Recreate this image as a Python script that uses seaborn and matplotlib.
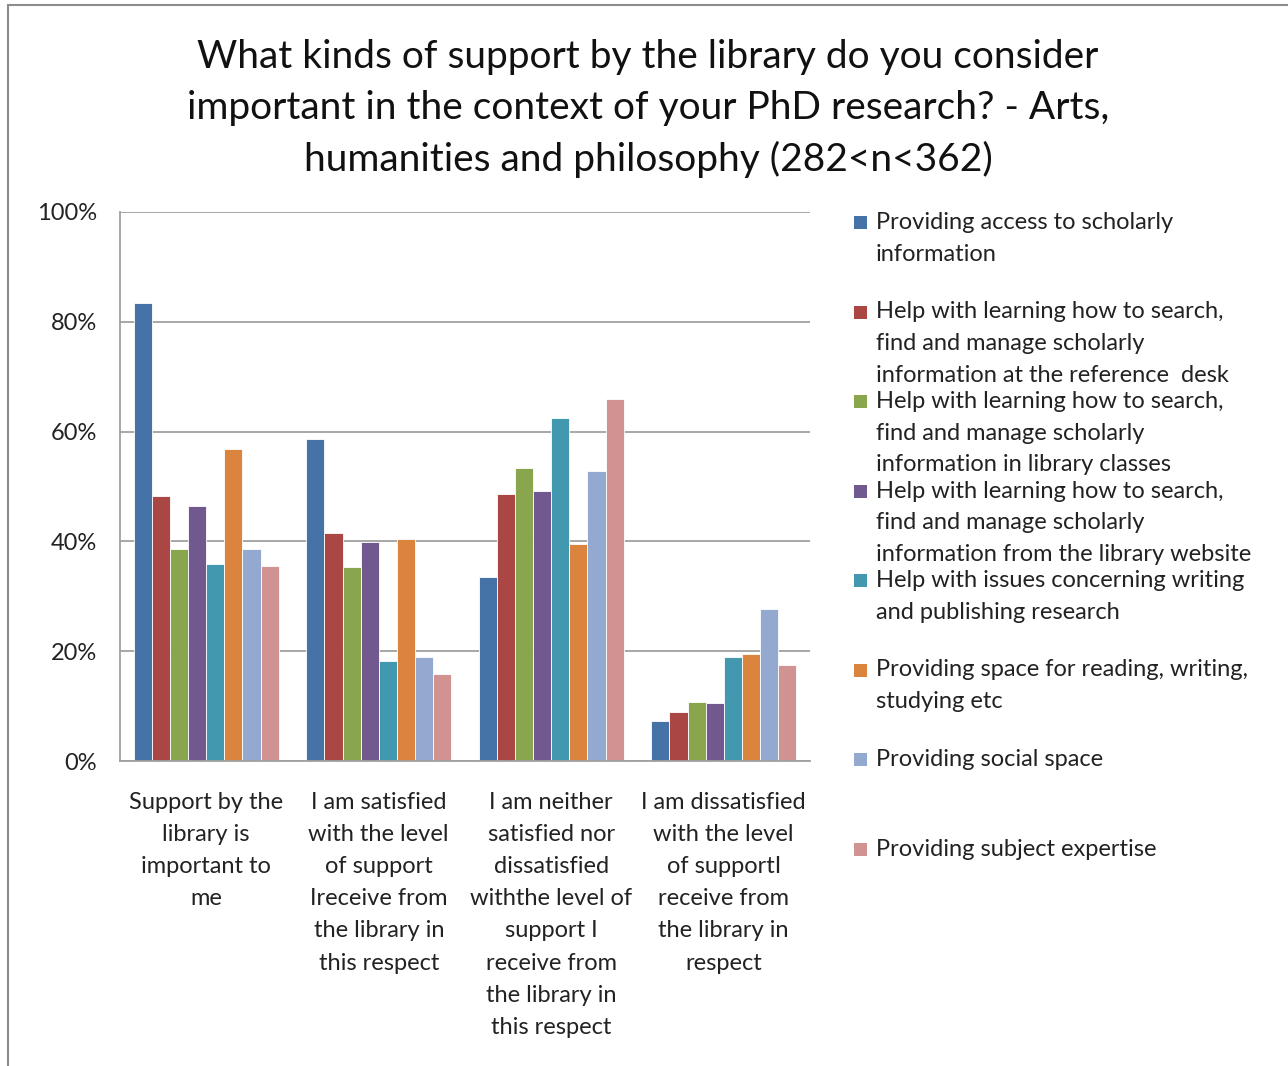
import pandas as pd
import seaborn as sns
import matplotlib.pyplot as plt
from matplotlib.patches import Rectangle

sns.set_theme(style='white')
plt.rcParams['font.family'] = ['Lato', 'DejaVu Sans']

# Data (percent)
categories = [
    "Support by the\nlibrary is\nimportant to\nme",
    "I am satisfied\nwith the level\nof support\nIreceive from\nthe library in\nthis respect",
    "I am neither\nsatisfied nor\ndissatisfied\nwiththe level of\nsupport I\nreceive from\nthe library in\nthis respect",
    "I am dissatisfied\nwith the level\nof supportI\nreceive from\nthe library in\nrespect",
]
series = [
    "Providing access to scholarly\ninformation",
    "Help with learning how to search,\nfind and manage scholarly\ninformation at the reference  desk",
    "Help with learning how to search,\nfind and manage scholarly\ninformation in library classes",
    "Help with learning how to search,\nfind and manage scholarly\ninformation from the library website",
    "Help with issues concerning writing\nand publishing research",
    "Providing space for reading, writing,\nstudying etc",
    "Providing social space",
    "Providing subject expertise",
]
access = [83.5, 58.7, 33.5, 7.3]
ref_desk = [48.3, 41.6, 48.7, 8.9]
classes = [38.7, 35.3, 53.4, 10.8]
website = [46.4, 39.8, 49.2, 10.5]
writing = [35.9, 18.2, 62.4, 18.9]
space = [56.8, 40.5, 39.5, 19.5]
social = [38.7, 18.9, 52.9, 27.6]
expertise = [35.6, 15.9, 66.0, 17.5]

colors = ['#4572A7', '#AA4643', '#89A54E', '#71588F', '#4198AF', '#DB843D', '#93A9CF', '#D19392']

values = [access, ref_desk, classes, website, writing, space, social, expertise]
rows = []
for s, vals in zip(series, values):
    for c, v in zip(categories, vals):
        rows.append({'category': c, 'series': s, 'value': v})
df = pd.DataFrame(rows)

fig = plt.figure(figsize=(12.88, 10.66), dpi=100)
ax = fig.add_axes([120 / 1288, 1 - 761 / 1066, 690 / 1288, 549 / 1066])

sns.barplot(data=df, x='category', y='value', hue='series', order=categories,
            hue_order=series, palette=colors, width=0.84, saturation=1,
            edgecolor='white', linewidth=0.6, ax=ax, legend=False)

ax.set_ylim(0, 100)
ax.set_xlim(-0.5, 3.5)
ax.set_yticks([0, 20, 40, 60, 80, 100])
ax.set_yticklabels(['0%', '20%', '40%', '60%', '80%', '100%'], fontsize=17, color='#222222')
ax.yaxis.grid(True, color='#a0a0a0', linewidth=1.3)
ax.set_axisbelow(True)
ax.set_xlabel('')
ax.set_ylabel('')
ax.set_xticks(range(4))
ax.set_xticklabels(categories, fontsize=17, color='#222222', linespacing=1.66, va='top')
ax.tick_params(axis='x', pad=22, length=0)
ax.tick_params(axis='y', pad=16.5, length=0)
for side in ['top', 'right']:
    ax.spines[side].set_visible(False)
for side in ['left', 'bottom']:
    ax.spines[side].set_color('#a0a0a0')
    ax.spines[side].set_linewidth(1.3)

# title
fig.text(648 / 1288, 1 - 39 / 1066,
         "What kinds of support by the library do you consider\n"
         "important in the context of your PhD research? - Arts,\n"
         "humanities and philosophy (282<n<362)",
         ha='center', va='top', fontsize=28, color='#111111', linespacing=1.5)

# legend drawn Excel-style: fixed slots, marker at first line
y0 = 222
step = 89.5
for i, (s, col) in enumerate(zip(series, colors)):
    y = y0 + i * step
    fig.patches.append(Rectangle((854 / 1288, 1 - (y + 7) / 1066), 13 / 1288, 13 / 1066,
                                 transform=fig.transFigure, facecolor=col, edgecolor='none'))
    fig.text(876 / 1288, 1 - (y - 10) / 1066, s, ha='left', va='top', fontsize=17,
             color='#222222', linespacing=1.62)

# outer chart border
fig.patches.append(Rectangle((8 / 1288, -0.01), 1.1, 1 - 5 / 1066 + 0.01,
                             transform=fig.transFigure, fill=False,
                             edgecolor='#8c8c8c', linewidth=1.5))

fig.savefig('out.png', dpi=100)
